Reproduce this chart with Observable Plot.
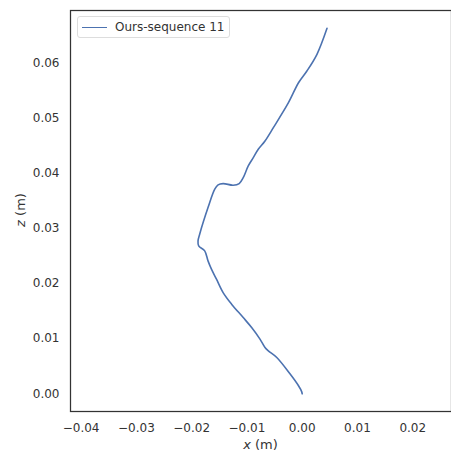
<!DOCTYPE html>
<html>
<head>
<meta charset="utf-8">
<script src="https://cdn.jsdelivr.net/npm/d3@7"></script>
<script src="https://cdn.jsdelivr.net/npm/@observablehq/plot@0.6"></script>
<style>
  html, body { margin: 0; padding: 0; background: #fff; }
  #wrap { position: relative; width: 451px; height: 453px; font-family: "DejaVu Sans", sans-serif; color: #333; }
  #wrap svg { display: block; }
  .legend { position: absolute; left: 77px; top: 16px; width: 153px; height: 22px; box-sizing: border-box;
            border: 1px solid #ddd; border-radius: 3px; background: rgba(255,255,255,0.8); font-size: 12px; }
  .legend .swatch { position: absolute; left: 4px; top: 9.5px; width: 25px; height: 0; border-top: 1.5px solid #4c72b0; }
  .legend .lbl { position: absolute; left: 37px; top: 2px; line-height: 16px; white-space: nowrap; color: #333; }
  .xlabel { position: absolute; left: 70px; width: 381px; top: 437px; text-align: center; font-size: 13px; color: #333; }
  .ylabel { position: absolute; left: 20px; top: 210px; transform: translate(-50%, -50%) rotate(-90deg); font-size: 13px; color: #333; white-space: nowrap; }
</style>
</head>
<body>
<div id="wrap"></div>
<script>
// Trajectory (x, z) in metres
const xs = [0, -0.0001, -0.00067, -0.00218, -0.0046, -0.00613, -0.00673, -0.00764, -0.00915, -0.01067,
  -0.01278, -0.01431, -0.01551, -0.01642, -0.01704, -0.01764, -0.01873, -0.01885, -0.01855, -0.01704,
  -0.01582, -0.01522, -0.01431, -0.01249, -0.0114, -0.01067, -0.00976, -0.00885, -0.00795, -0.00673,
  -0.00522, -0.00249, -0.00067, 0.00085, 0.00267, 0.00449];
const zs = [0, 0.0004, 0.00145, 0.00357, 0.00658, 0.00779, 0.00839, 0.00991, 0.01201, 0.01382,
  0.01625, 0.01835, 0.02078, 0.02259, 0.02409, 0.02591, 0.02681, 0.02772, 0.02893, 0.03375,
  0.03708, 0.03786, 0.0381, 0.03781, 0.0381, 0.03918, 0.0413, 0.04281, 0.04433, 0.04583,
  0.04824, 0.05277, 0.05639, 0.05851, 0.06154, 0.06625];
const xTicks = [-0.04, -0.03, -0.02, -0.01, 0.00, 0.01, 0.02];
const zTicks = [0.00, 0.01, 0.02, 0.03, 0.04, 0.05, 0.06];
const seriesName = "Ours-sequence 11";

const data = xs.map((x, i) => ({x, z: zs[i]}));

const chart = Plot.plot({
  width: 451,
  height: 453,
  marginLeft: 70,
  marginRight: 0,
  marginTop: 10,
  marginBottom: 42,
  style: {fontFamily: "DejaVu Sans, sans-serif", fontSize: "12px", color: "#333", background: "#fff"},
  x: {domain: [-0.04192, 0.02701], ticks: xTicks, tickFormat: d3.format(".2f"), label: null},
  y: {domain: [-0.00321, 0.06948], ticks: zTicks, tickFormat: d3.format(".2f"), label: null},
  marks: [
    Plot.axisX({ticks: xTicks, tickFormat: d3.format(".2f"), tickSize: 0, tickPadding: 12, fill: "#333"}),
    Plot.axisY({ticks: zTicks, tickFormat: d3.format(".2f"), tickSize: 0, tickPadding: 11, fill: "#333"}),
    Plot.line(data, {x: "x", y: "z", stroke: "#4c72b0", strokeWidth: 1.6, curve: "catmull-rom"}),
    Plot.frame({stroke: "#333", strokeWidth: 1.25})
  ]
});

const wrap = document.getElementById("wrap");
wrap.appendChild(chart);

const legend = document.createElement("div");
legend.className = "legend";
legend.innerHTML = `<div class="swatch"></div><div class="lbl"></div>`;
legend.querySelector(".lbl").textContent = seriesName;
wrap.appendChild(legend);

const xl = document.createElement("div");
xl.className = "xlabel";
xl.innerHTML = "<i>x</i> (m)";
wrap.appendChild(xl);

const yl = document.createElement("div");
yl.className = "ylabel";
yl.innerHTML = "<i>z</i> (m)";
wrap.appendChild(yl);
</script>
</body>
</html>
